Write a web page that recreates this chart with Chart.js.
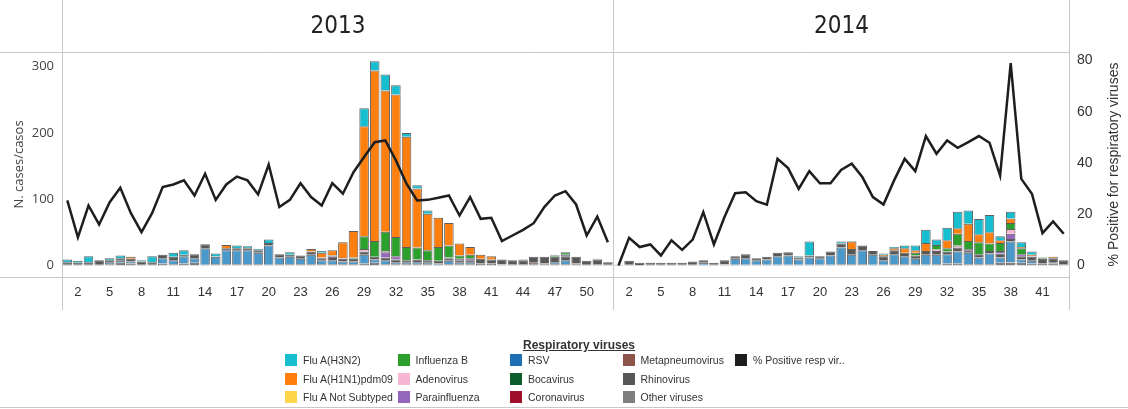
<!DOCTYPE html>
<html>
<head>
<meta charset="utf-8">
<script src="https://cdn.jsdelivr.net/npm/chart.js@4.4.1/dist/chart.umd.min.js"></script>
<style>
  html, body { margin: 0; padding: 0; background: #fff; }
  #wrap { position: relative; width: 1128px; height: 409px; overflow: hidden; }
  #chart { position: absolute; left: 0; top: 0; }
  #legend { position: absolute; left: 0; top: 0; width: 1128px; height: 409px; font-family: "Liberation Sans", Arial, sans-serif; color: #333; }
  #legend .ttl { position: absolute; top: 338px; left: 0; width: 1158px; text-align: center; font-size: 12px; font-weight: bold; text-decoration: underline; }
  #legend .it { position: absolute; font-size: 10.5px; line-height: 12px; white-space: nowrap; }
  #legend .sw { display: inline-block; width: 12px; height: 12px; vertical-align: top; margin-right: 6px; }
  #bottomline { position: absolute; left: 0; top: 407px; width: 1128px; height: 1px; background: #c8c8c8; }
</style>
</head>
<body>
<div id="wrap">
  <canvas id="chart" width="1128" height="310"></canvas>
  <div id="legend"><div class="ttl">Respiratory viruses</div></div>
  <div id="bottomline"></div>
</div>
<script>
// Weeks per panel
const weeks2013 = Array.from({length: 52}, (_, i) => i + 1);
const weeks2014 = Array.from({length: 43}, (_, i) => i + 1);

// 2013 counts by virus (weeks 1-52)
const h3n2_2013   = [4,3,9,0,3,4,0,2,9,0, 6,7,0,0,4,0,4,3,2,5, 0,4,0,0,3,0,0,0,27,14, 24,14,6,5,5,0,0,0,0,0, 0,0,0,0,0,0,1,0,0,0, 0,0];
const h1n1_2013   = [0,0,0,0,0,0,3,0,0,0, 0,0,0,0,0,5,0,0,0,0, 0,0,0,4,7,8,24,40,166,257, 213,215,166,89,55,44,34,18,12,6, 5,0,0,0,0,0,0,0,0,0, 0,0];
const notSub_2013 = [0,0,0,0,0,0,0,0,0,0, 0,0,0,0,0,0,0,0,0,0, 0,0,0,0,0,0,0,0,0,0, 0,0,0,0,0,0,0,0,0,0, 0,0,0,0,0,0,0,0,0,0, 0,0];
const fluB_2013   = [0,0,0,0,0,0,0,0,0,0, 0,0,0,0,0,0,0,0,0,0, 0,0,0,0,0,0,0,2,19,24, 29,29,20,18,15,21,18,5,5,0, 0,0,0,1,0,0,2,4,0,0, 0,0];
const adeno_2013  = [0,0,0,0,0,0,0,0,0,0, 0,0,0,0,0,0,0,0,0,0, 0,0,0,0,0,0,0,0,4,0, 2,0,0,0,0,0,0,0,0,0, 0,0,0,0,0,0,0,0,0,0, 0,0];
const para_2013   = [0,0,0,0,0,0,0,0,0,0, 0,0,0,0,0,0,0,0,0,0, 0,0,0,0,1,2,1,0,0,0, 8,5,0,0,0,0,1,2,3,0, 0,0,0,0,0,0,0,2,0,0, 1,0];
const rsv_2013    = [0,0,0,0,2,3,3,0,0,8, 6,11,7,25,11,21,21,21,17,29, 10,11,8,14,6,6,4,4,13,5, 6,3,2,3,2,2,5,2,2,0, 0,0,0,0,0,0,3,6,0,0, 0,0];
const boca_2013   = [0,0,0,0,0,0,0,0,0,0, 0,0,0,0,0,0,0,0,0,0, 0,0,0,0,0,0,0,0,0,0, 0,0,0,0,0,0,0,0,0,0, 0,0,0,0,0,0,0,0,0,0, 0,0];
const corona_2013 = [0,0,0,0,0,0,0,0,0,0, 0,0,0,0,0,0,0,0,0,0, 0,0,0,0,0,0,0,0,0,0, 0,0,0,0,0,0,0,0,0,0, 0,0,0,0,0,0,0,0,0,0, 0,0];
const meta_2013   = [0,0,0,0,0,0,0,0,0,0, 0,0,0,0,0,0,0,0,0,0, 0,0,0,0,0,0,0,0,0,0, 0,0,0,0,0,0,0,0,0,0, 0,1,0,0,2,1,0,0,1,0, 0,0];
const rhino_2013  = [4,3,4,7,4,4,4,5,4,5, 5,2,6,6,1,3,3,3,4,4, 5,3,5,5,3,5,4,4,5,4, 4,4,4,4,4,4,4,4,4,7, 6,7,6,6,9,10,8,6,10,6, 7,4];
const other_2013  = [1,1,1,1,2,4,3,1,1,3, 2,3,4,1,2,2,2,2,2,1, 2,2,2,2,2,2,2,2,3,4, 2,2,2,2,2,1,2,2,2,3, 3,1,2,2,2,2,2,2,2,1, 2,1];

// 2014 counts by virus (weeks 1-43)
const h3n2_2014   = [0,0,0,0,0,0,0,0,0,0, 0,0,0,0,0,0,0,2,21,0, 0,2,1,0,0,2,2,4,7,20, 8,19,25,20,23,26,6,10,7,5, 0,0,0];
const h1n1_2014   = [0,0,0,0,0,0,0,0,0,0, 0,0,0,0,0,0,0,0,0,0, 0,0,11,0,0,2,3,7,4,12, 0,12,8,26,12,17,4,7,2,2, 0,2,0];
const notSub_2014 = [0,0,0,0,0,0,0,0,0,0, 0,0,0,0,0,0,0,0,0,0, 0,0,0,0,0,0,0,0,0,0, 0,0,0,0,0,0,0,0,0,0, 0,0,0];
const fluB_2014   = [0,0,0,0,0,0,0,0,0,0, 0,0,0,0,0,0,0,0,0,0, 0,0,0,0,0,0,0,0,4,0, 7,5,18,12,18,11,12,9,9,0, 2,0,0];
const adeno_2014  = [0,0,0,0,0,0,0,0,0,0, 0,0,0,0,0,0,0,0,0,0, 0,0,0,0,0,0,0,0,0,0, 2,0,3,0,0,0,0,7,0,0, 0,0,0];
const para_2014   = [0,0,0,0,0,0,0,0,0,0, 0,0,0,0,0,0,0,0,0,0, 0,1,0,0,0,0,0,0,0,0, 0,0,0,2,0,0,4,8,3,1, 0,0,0];
const rsv_2014    = [0,0,0,0,0,0,0,0,3,0, 1,9,10,7,8,13,14,8,11,10, 14,25,14,21,15,7,15,12,8,15, 14,14,18,17,10,16,8,31,5,4, 0,1,0];
const boca_2014   = [0,0,0,0,0,0,0,0,0,0, 0,0,0,0,0,0,0,0,0,0, 0,0,0,0,0,0,0,0,0,0, 0,0,0,0,0,0,0,0,0,0, 0,0,0];
const corona_2014 = [0,0,0,0,0,0,0,0,0,0, 0,0,0,0,0,0,0,0,0,0, 0,0,0,0,0,0,0,0,0,0, 0,0,0,0,0,0,0,0,0,0, 0,0,0];
const meta_2014   = [0,0,0,0,0,0,0,0,0,0, 0,0,0,0,0,0,0,0,0,0, 0,0,0,0,0,0,0,0,0,0, 0,0,0,0,0,0,0,1,0,0, 0,0,0];
const rhino_2014  = [1,6,4,3,3,3,3,5,4,3, 6,4,6,3,4,5,5,3,3,3, 6,6,9,7,6,6,6,5,5,6, 6,4,6,4,5,4,6,4,5,6, 7,7,6];
const other_2014  = [0,1,0,1,1,1,1,1,1,1, 1,1,1,1,1,1,1,1,1,1, 1,2,2,2,1,1,2,2,2,1, 2,3,3,2,2,2,4,4,4,3, 3,3,2];

// % positive for respiratory viruses
const pct2013 = [25.4,11,23.4,16,24.7,30.3,20.4,13,20.4,30.6, 31.6,33.2,27.3,35.8,25.6,31.6,34.7,33.2,27.7,39.4,
                 22.8,25.6,32.1,26.7,23.4,32.1,28,36.4,42.3,48.1, 48.8,41,31.9,25.4,25.6,26.4,27.3,19.5,26.7,18.2,
                 18.6,9.5,11.7,13.9,16.5,22.8,27.3,29,23.8,11.7, 19.1,9.1];
const pct2014 = [0,10.8,7.2,8.2,3.9,9.8,6.1,10.1,20.8,8.2, 18.9,28.2,28.6,25.1,23.7,41.6,38,29.9,36.8,32.1,
                 32.1,37.3,39.7,34.5,26.7,23.8,33.2,41.6,36.8,50.5, 43.6,48.8,45.9,48.1,50.5,47.9,35.1,79,33.8,28,
                 12.6,17.2,12.4];

const leftTicks = [0, 100, 200, 300];
const rightTicks = [0, 20, 40, 60, 80];
const years = ['2013', '2014'];

// bottom to top in the stack
const series = [
    {label: 'Other viruses',      color: '#7f7f7f', d13: other_2013,  d14: other_2014},
    {label: 'Metapneumovirus',    color: '#8c564b', d13: meta_2013,   d14: meta_2014},
    {label: 'Coronavirus',        color: '#a50f2a', d13: corona_2013, d14: corona_2014},
    {label: 'Bocavirus',          color: '#0b6128', d13: boca_2013,   d14: boca_2014},
    {label: 'RSV',                color: '#4b98cb', d13: rsv_2013,    d14: rsv_2014},
    {label: 'Rhinovirus',         color: '#575757', d13: rhino_2013,  d14: rhino_2014},
    {label: 'Parainfluenza',      color: '#9467bd', d13: para_2013,   d14: para_2014},
    {label: 'Adenovirus',         color: '#f7b6d2', d13: adeno_2013,  d14: adeno_2014},
    {label: 'Influenza B',        color: '#2ca02c', d13: fluB_2013,   d14: fluB_2014},
    {label: 'Flu A Not Subtyped', color: '#ffd54a', d13: notSub_2013, d14: notSub_2014},
    {label: 'Flu A(H1N1)pdm09',   color: '#ff7f0e', d13: h1n1_2013,   d14: h1n1_2014},
    {label: 'Flu A(H3N2)',        color: '#17becf', d13: h3n2_2013,   d14: h3n2_2014}
];

// Legend (column by column, as in the picture)
const legendItems = [
    ['Flu A(H3N2)', '#17becf'], ['Flu A(H1N1)pdm09', '#ff7f0e'], ['Flu A Not Subtyped', '#ffd54a'],
    ['Influenza B', '#2ca02c'], ['Adenovirus', '#f7b6d2'], ['Parainfluenza', '#9467bd'],
    ['RSV', '#1f6fb4'], ['Bocavirus', '#0b5e2c'], ['Coronavirus', '#a0102a'],
    ['Metapneumovirus', '#8c564b'], ['Rhinovirus', '#575757'], ['Other viruses', '#7f7f7f'],
    ['% Positive resp vir..', '#1e1e1e']
];

const legendEl = document.getElementById('legend');
legendItems.forEach((it, i) => {
    const col = Math.floor(i / 3), row = i % 3;
    const d = document.createElement('div');
    d.className = 'it';
    d.style.left = (285 + col * 112.5) + 'px';
    d.style.top = (354 + row * 18.5) + 'px';
    d.innerHTML = '<span class="sw" style="background:' + it[1] + '"></span>' + it[0];
    legendEl.appendChild(d);
});

const labels = weeks2013.map(w => '2013-' + w).concat(weeks2014.map(w => '2014-' + w));
const nz = a => a.map(v => v === 0 ? null : v);
const fill13 = Array(weeks2013.length).fill(null);

const datasets = series.map(s => ({
    type: 'bar',
    label: s.label,
    data: nz(s.d13.concat(s.d14)),
    backgroundColor: s.color,
    borderColor: '#5e5e5e',
    borderWidth: 1,
    yAxisID: 'y',
    stack: 'v',
    order: 2,
    barPercentage: 1,
    categoryPercentage: 0.9
}));

datasets.push({
    type: 'line', label: '% Positive resp vir..', data: pct2013.concat(weeks2014.map(() => null)),
    borderColor: '#1e1e1e', borderWidth: 2.5, pointRadius: 0, tension: 0, yAxisID: 'y1', order: 0
});
datasets.push({
    type: 'line', label: '% Positive resp vir.. 2014', data: fill13.concat(pct2014),
    borderColor: '#1e1e1e', borderWidth: 2.5, pointRadius: 0, tension: 0, yAxisID: 'y1', order: 0
});

// Panel frame, year headers and right axis title
const framePlugin = {
    id: 'frame',
    beforeDatasetsDraw(chart) {
        const {ctx, chartArea: a, scales: {x}} = chart;
        const div = Math.round((x.getPixelForTick(weeks2013.length - 1) + x.getPixelForTick(weeks2013.length)) / 2) + 0.5;
        const L = Math.round(a.left) + 0.5, R = Math.round(a.right) + 0.5;
        const T = Math.round(a.top) + 0.5, B = Math.round(a.bottom) + 0.5;
        ctx.save();
        ctx.strokeStyle = '#c8c8c8';
        ctx.lineWidth = 1;
        ctx.beginPath();
        [L, div, R].forEach(px => { ctx.moveTo(px, 0); ctx.lineTo(px, chart.height); });
        ctx.moveTo(0, T); ctx.lineTo(R, T);
        ctx.moveTo(0, B); ctx.lineTo(R, B);
        ctx.stroke();

        ctx.fillStyle = '#222';
        ctx.font = '24px "Liberation Sans Narrow", "DejaVu Sans Condensed", sans-serif';
        ctx.textAlign = 'center';
        ctx.textBaseline = 'middle';
        ctx.fillText(years[0], (L + div) / 2, 27);
        ctx.fillText(years[1], (div + R) / 2, 27);

        ctx.fillStyle = '#333';
        ctx.font = '14px "Liberation Sans", Arial, sans-serif';
        ctx.translate(1114, (a.top + a.bottom) / 2);
        ctx.rotate(-Math.PI / 2);
        ctx.fillText('% Positive for respiratory viruses', 0, 0);
        ctx.restore();
    }
};

new Chart(document.getElementById('chart'), {
    data: {labels: labels, datasets: datasets},
    options: {
        responsive: false,
        animation: false,
        devicePixelRatio: 1,
        layout: {padding: {top: 52, left: 0, right: 0, bottom: 0}},
        plugins: {legend: {display: false}, tooltip: {enabled: false}},
        scales: {
            x: {
                stacked: true,
                grid: {display: false},
                border: {display: false},
                ticks: {
                    autoSkip: false,
                    maxRotation: 0,
                    padding: 0,
                    color: '#333',
                    font: {family: '"Liberation Sans", Arial, sans-serif', size: 13},
                    callback: function(val, i) {
                        const w = Number(labels[i].split('-')[1]);
                        return (w - 2) % 3 === 0 ? String(w) : '';
                    }
                },
                afterFit: s => { s.height = 33; }
            },
            y: {
                stacked: true,
                position: 'left',
                min: -17.4,
                max: 322,
                afterBuildTicks: s => { s.ticks = leftTicks.map(v => ({value: v})); },
                grid: {display: false},
                border: {display: false},
                ticks: {padding: 0, color: '#444', font: {family: '"Open Sans", sans-serif', size: 13}},
                title: {display: true, text: 'N. cases/casos', color: '#444',
                        font: {family: '"Open Sans", sans-serif', size: 13}, padding: {top: 11, bottom: 0}},
                afterFit: s => { s.width = 62; }
            },
            y1: {
                position: 'right',
                min: -4.5,
                max: 83.3,
                afterBuildTicks: s => { s.ticks = rightTicks.map(v => ({value: v})); },
                grid: {display: false},
                border: {display: false},
                ticks: {padding: 0, color: '#333', font: {family: '"Liberation Sans", Arial, sans-serif', size: 14}},
                afterFit: s => { s.width = 59; }
            }
        }
    },
    plugins: [framePlugin]
});
</script>
</body>
</html>
